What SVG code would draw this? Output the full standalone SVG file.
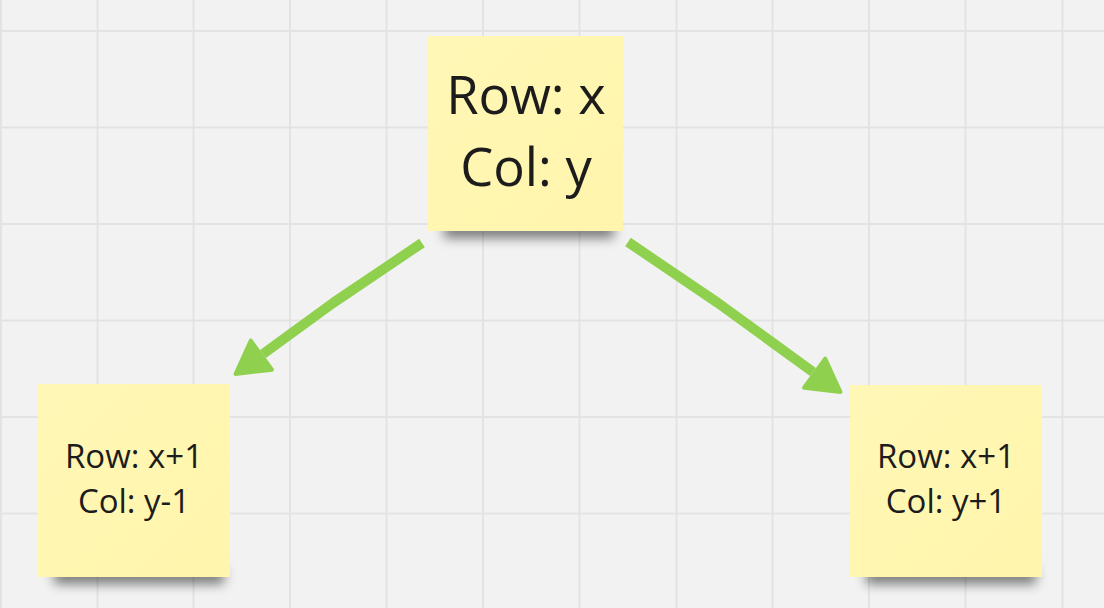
<svg xmlns="http://www.w3.org/2000/svg" width="1104" height="608" viewBox="0 0 1104 608">
<style>
.grid line{stroke:#e3e3e3;stroke-width:2}
.note{fill:url(#noteGrad)}
.shadow{fill:#000;opacity:0.5;filter:url(#blur)}
.big{font-family:"Open Sans","Noto Sans",sans-serif;font-size:52.5px;fill:#1c1c1c;text-anchor:middle}
.small{font-family:"Open Sans","Noto Sans",sans-serif;font-size:33px;fill:#1c1c1c;text-anchor:middle}
.conn path{fill:none;stroke:#8fd14f;stroke-width:10;stroke-linejoin:round}
</style>
<defs>
<linearGradient id="noteGrad" x1="0" y1="0" x2="1" y2="1">
<stop offset="0" stop-color="#fff7b6"/>
<stop offset="1" stop-color="#fff5ac"/>
</linearGradient>
<filter id="blur" x="-20%" y="-100%" width="140%" height="300%">
<feGaussianBlur stdDeviation="6"/>
</filter>
<marker id="head" markerUnits="userSpaceOnUse" viewBox="-4 -24 44 48" markerWidth="44" markerHeight="48" refX="0" refY="0" orient="auto">
<path d="M2,-18 L34,0 L2,18 Z" fill="#8fd14f" stroke="#8fd14f" stroke-width="4" stroke-linejoin="round"/>
</marker>
</defs>
<rect width="1104" height="608" fill="#f2f2f2"/>
<g class="grid">
<line x1="1" y1="0" x2="1" y2="608"/>
<line x1="97.5" y1="0" x2="97.5" y2="608"/>
<line x1="193.5" y1="0" x2="193.5" y2="608"/>
<line x1="290" y1="0" x2="290" y2="608"/>
<line x1="386.5" y1="0" x2="386.5" y2="608"/>
<line x1="483" y1="0" x2="483" y2="608"/>
<line x1="579.5" y1="0" x2="579.5" y2="608"/>
<line x1="676.5" y1="0" x2="676.5" y2="608"/>
<line x1="772.5" y1="0" x2="772.5" y2="608"/>
<line x1="869" y1="0" x2="869" y2="608"/>
<line x1="965.5" y1="0" x2="965.5" y2="608"/>
<line x1="1062.5" y1="0" x2="1062.5" y2="608"/>
<line x1="0" y1="31" x2="1104" y2="31"/>
<line x1="0" y1="127.5" x2="1104" y2="127.5"/>
<line x1="0" y1="224" x2="1104" y2="224"/>
<line x1="0" y1="320.5" x2="1104" y2="320.5"/>
<line x1="0" y1="417" x2="1104" y2="417"/>
<line x1="0" y1="513.5" x2="1104" y2="513.5"/>
</g>
<g id="node-top">
<rect class="shadow" x="444" y="222" width="170" height="16"/>
<rect class="note" x="428" y="36" width="195" height="195"/>
<text class="big" x="526" y="114">Row: x</text>
<text class="big" x="526" y="186">Col: y</text>
</g>
<g id="node-left">
<rect class="shadow" x="54" y="568" width="170" height="16"/>
<rect class="note" x="38" y="384" width="192" height="193"/>
<text class="small" x="134" y="468">Row: x+1</text>
<text class="small" x="134" y="513">Col: y-1</text>
</g>
<g id="node-right">
<rect class="shadow" x="866" y="568" width="170" height="16"/>
<rect class="note" x="850" y="385" width="192" height="192"/>
<text class="small" x="946" y="468">Row: x+1</text>
<text class="small" x="946" y="513">Col: y+1</text>
</g>
<g class="conn">
<path d="M422,243 L333,303 L263,354" marker-end="url(#head)"/>
<path d="M628,242 L718,303 L813,372" marker-end="url(#head)"/>
</g>
</svg>
